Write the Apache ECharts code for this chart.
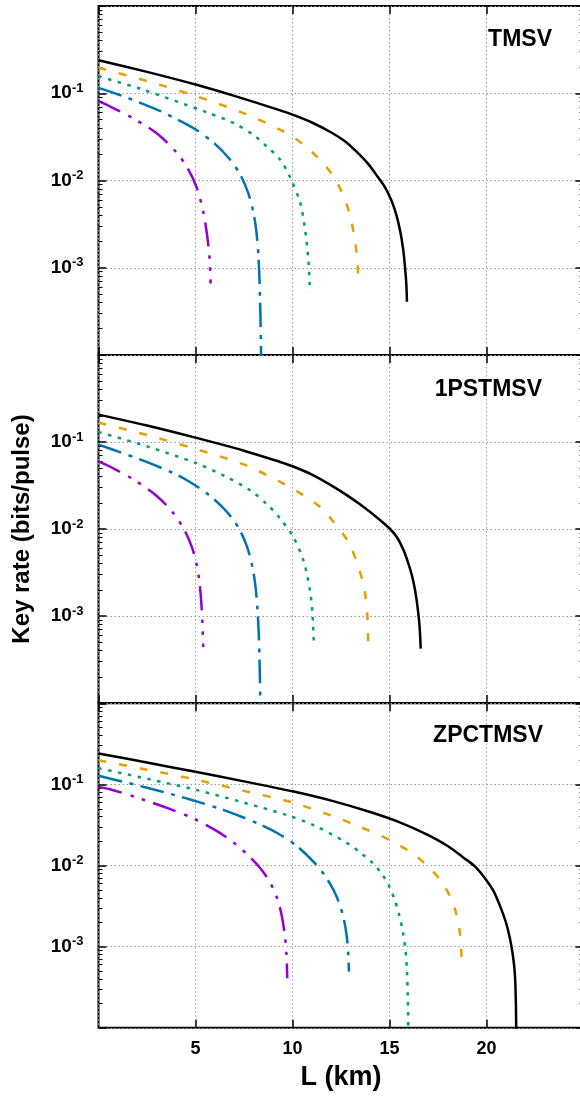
<!DOCTYPE html>
<html><head><meta charset="utf-8">
<script src="https://cdn.jsdelivr.net/npm/echarts@6/dist/echarts.min.js"></script>
<style>html,body{margin:0;padding:0;background:#fff}#c{width:580px;height:1096px}</style>
</head><body><div id="c"></div>
<script>
// ---------- data ----------
const panelNames = ['TMSV', '1PSTMSV', 'ZPCTMSV'];
const xTickLabels = [5, 10, 15, 20];
const yTickExponents = [-3, -2, -1];
const xAxisTitle = 'L (km)';
const yAxisTitle = 'Key rate (bits/pulse)';

// Panel 1: TMSV
const tmsvSolidL = [0, 2.5, 5, 7, 9, 10, 11, 12, 12.7, 13.3, 13.9, 14.4, 14.8, 15.1, 15.35, 15.55, 15.7, 15.8, 15.87, 15.9];
const tmsvSolidK = [0.2393, 0.1758, 0.1259, 0.0933, 0.0676, 0.0569, 0.0462, 0.0355, 0.0282, 0.0214, 0.0155, 0.01096, 0.00813, 0.00589, 0.00407, 0.00263, 0.00166, 0.00102, 0.00063, 0.000407];
const tmsvDashL = [0, 2.5, 5, 7.5, 9.53, 10.51, 11.37, 12.05, 12.57, 12.96, 13.2, 13.34, 13.39];
const tmsvDashK = [0.1959, 0.138, 0.0933, 0.0589, 0.0366, 0.0264, 0.0177, 0.01164, 0.00716, 0.00404, 0.00218, 0.00125, 0.00069];
const tmsvDotL = [0, 2.17, 5.58, 6.95, 8, 8.67, 9.36, 9.87, 10.39, 10.64, 10.82, 10.9];
const tmsvDotK = [0.1567, 0.1122, 0.0605, 0.0457, 0.0331, 0.0246, 0.0174, 0.01096, 0.00562, 0.00282, 0.00123, 0.000525];
const tmsvDashDotL = [0, 1.23, 2.83, 3.48, 4.97, 6, 6.78, 7.3, 7.72, 7.95, 8.12, 8.24, 8.32, 8.38, 8.42];
const tmsvDashDotK = [0.1153, 0.0933, 0.0676, 0.0582, 0.0389, 0.0263, 0.0174, 0.01175, 0.00716, 0.00468, 0.00282, 0.00141, 0.000501, 0.000105, 0.00001];
const tmsvDashDotDotL = [0, 0.63, 1.76, 3, 4.03, 4.6, 5.06, 5.4, 5.6, 5.72, 5.78];
const tmsvDashDotDotK = [0.0813, 0.07, 0.0519, 0.0347, 0.0209, 0.0138, 0.00832, 0.00437, 0.00234, 0.00132, 0.00066];

// Panel 2: 1PSTMSV
const psSolidL = [0, 2.5, 5, 7.5, 9.36, 10, 11, 11.93, 12.8, 13.65, 14.4, 15.03, 15.4, 15.71, 15.95, 16.14, 16.3, 16.4, 16.5, 16.56, 16.61];
const psSolidK = [0.2065, 0.1549, 0.1122, 0.0794, 0.0589, 0.0526, 0.0422, 0.0324, 0.0245, 0.018, 0.0133, 0.01, 0.00794, 0.00582, 0.00417, 0.00302, 0.00209, 0.00151, 0.001, 0.000708, 0.000422];
const psDashL = [0, 2.5, 5, 7.5, 9.53, 10.56, 11.42, 12.19, 12.88, 13.31, 13.65, 13.78, 13.86, 13.91];
const psDashK = [0.1671, 0.1202, 0.0832, 0.055, 0.0333, 0.0244, 0.0179, 0.01153, 0.0071, 0.00418, 0.00236, 0.00158, 0.001, 0.000422];
const psDotL = [0, 2.5, 5, 6.5, 7.81, 8.7, 9.36, 10.04, 10.56, 10.9, 11.04, 11.1];
const psDotK = [0.1303, 0.0891, 0.0575, 0.0407, 0.0279, 0.0191, 0.0132, 0.00809, 0.00437, 0.00197, 0.000977, 0.00046];
const psDashDotL = [0, 1.2, 2.31, 3.73, 4.6, 5.58, 6.35, 6.9, 7.3, 7.65, 7.9, 8.07, 8.18, 8.26, 8.32, 8.36, 8.4];
const psDashDotK = [0.0933, 0.075, 0.061, 0.0452, 0.0359, 0.0257, 0.0182, 0.0132, 0.00955, 0.00631, 0.00398, 0.0024, 0.00132, 0.00063, 0.0002, 0.00005, 0.00001];
const psDashDotDotL = [0, 0.63, 1.76, 3, 3.8, 4.4, 4.8, 5.05, 5.2, 5.3, 5.36, 5.4];
const psDashDotDotK = [0.06, 0.0516, 0.0376, 0.024, 0.0158, 0.01, 0.00631, 0.00398, 0.00251, 0.00141, 0.000794, 0.00044];

// Panel 3: ZPCTMSV
const zpcSolidL = [0, 2.5, 5, 7.5, 10, 12, 14, 15.5, 17, 18, 18.8, 19.4, 19.9, 20.35, 20.7, 21.0, 21.2, 21.35, 21.45, 21.5, 21.53, 21.55];
const zpcSolidK = [0.241, 0.1862, 0.1429, 0.1091, 0.0822, 0.0631, 0.0457, 0.0343, 0.0237, 0.0174, 0.0126, 0.00977, 0.00708, 0.0049, 0.00316, 0.002, 0.00129, 0.000813, 0.000501, 0.000282, 0.0001, 0.00001];
const zpcDashL = [0, 2.5, 5, 7.5, 9.87, 11.93, 13.5, 15.02, 16.05, 16.92, 17.69, 18.21, 18.45, 18.6, 18.68, 18.72];
const zpcDashK = [0.1991, 0.152, 0.1148, 0.0832, 0.0611, 0.0419, 0.0299, 0.0206, 0.0148, 0.01014, 0.00631, 0.00376, 0.00251, 0.00166, 0.00112, 0.000568];
const zpcDotL = [0, 2.5, 5, 7.5, 9.7, 11.07, 12.79, 13.6, 14.16, 14.6, 14.95, 15.25, 15.5, 15.7, 15.83, 15.9, 15.94, 15.97, 15.99];
const zpcDotK = [0.1585, 0.1175, 0.0861, 0.0596, 0.0419, 0.0316, 0.0191, 0.0138, 0.0106, 0.00794, 0.00575, 0.00389, 0.00245, 0.00148, 0.000891, 0.000501, 0.000251, 0.0001, 0.00001];
const zpcDashDotL = [0, 1.28, 2.4, 3.6, 4.72, 6.5, 8.15, 9.3, 10.22, 11.1, 11.6, 11.95, 12.25, 12.5, 12.68, 12.8, 12.87, 12.91];
const zpcDashDotK = [0.1276, 0.1076, 0.0923, 0.0776, 0.0653, 0.0479, 0.0335, 0.0245, 0.0174, 0.011, 0.00794, 0.00589, 0.00427, 0.00295, 0.002, 0.00132, 0.000851, 0.000493];
const zpcDashDotDotL = [0, 0.63, 1.88, 3.6, 4.8, 6, 6.95, 7.7, 8.33, 8.8, 9.19, 9.43, 9.6, 9.69, 9.73];
const zpcDashDotDotK = [0.0933, 0.0867, 0.0703, 0.0506, 0.0389, 0.0275, 0.0193, 0.0135, 0.00933, 0.00646, 0.00407, 0.00251, 0.00141, 0.000794, 0.000408];

// ---------- styling ----------
const FONT = '"Liberation Sans", Arial, Helvetica, sans-serif';
const styles = {
  solid:      { color: '#000000', type: 'solid' },
  dash:       { color: '#E69F00', type: [8, 13] },
  dot:        { color: '#009E73', type: [3.5, 6.5] },
  dashDot:    { color: '#0072B2', type: [24, 8, 4, 7] },
  dashDotDot: { color: '#9400D3', type: [24, 9, 3.5, 8.5, 3.5, 8.5] }
};
const panels = [
  { curves: [['dashDotDot', tmsvDashDotDotL, tmsvDashDotDotK], ['dashDot', tmsvDashDotL, tmsvDashDotK], ['dot', tmsvDotL, tmsvDotK], ['dash', tmsvDashL, tmsvDashK], ['solid', tmsvSolidL, tmsvSolidK]] },
  { curves: [['dashDotDot', psDashDotDotL, psDashDotDotK], ['dashDot', psDashDotL, psDashDotK], ['dot', psDotL, psDotK], ['dash', psDashL, psDashK], ['solid', psSolidL, psSolidK]] },
  { curves: [['dashDotDot', zpcDashDotDotL, zpcDashDotDotK], ['dashDot', zpcDashDotL, zpcDashDotK], ['dot', zpcDotL, zpcDotK], ['dash', zpcDashL, zpcDashK], ['solid', zpcSolidL, zpcSolidK]] }
];
const grids = [
  { left: 98.5, width: 485, top: 6, height: 349 },
  { left: 98.5, width: 485, top: 355, height: 348 },
  { left: 98.5, width: 485, top: 703.3, height: 324.5 }
];
const minorVals = [];
for (let e = -4; e < 0; e++) for (let m = 2; m <= 9; m++) minorVals.push(m * Math.pow(10, e));

const gridLine = { show: true, lineStyle: { color: '#9a9a9a', width: 1, type: [1.5, 2.5] } };
const opt = { animation: false, backgroundColor: '#fff', grid: [], xAxis: [], yAxis: [], series: [], graphic: [] };

grids.forEach((g, gi) => {
  opt.grid.push(Object.assign({ show: true, borderColor: '#000', borderWidth: 2, backgroundColor: 'transparent', containLabel: false, outerBoundsMode: 'none' }, g));
  const isLast = gi === grids.length - 1;
  opt.xAxis.push({
    type: 'value', gridIndex: gi, min: 0, max: 25, interval: 5, position: 'bottom',
    axisLine: { show: false },
    axisTick: { show: true, inside: true, length: 8, lineStyle: { color: '#000', width: 1.5 } },
    splitLine: gridLine,
    axisLabel: {
      show: isLast, margin: 12, color: '#000', fontFamily: FONT, fontWeight: 'bold', fontSize: 18,
      showMinLabel: false, showMaxLabel: false,
      formatter: v => xTickLabels.includes(v) ? String(v) : ''
    },
    name: isLast ? xAxisTitle : '', nameLocation: 'middle', nameGap: 36,
    nameTextStyle: { color: '#000', fontFamily: FONT, fontWeight: 'bold', fontSize: 27 }
  });
  opt.xAxis.push({
    type: 'value', gridIndex: gi, min: 0, max: 25, interval: 5, position: 'top',
    axisLine: { show: false }, splitLine: { show: false }, axisLabel: { show: false },
    axisTick: { show: true, inside: true, length: 8, lineStyle: { color: '#000', width: 1.5 } }
  });
  const yBase = { type: 'log', logBase: 10, gridIndex: gi, min: 1e-4, max: 1, axisLine: { show: false } };
  opt.yAxis.push(Object.assign({}, yBase, {
    position: 'left',
    axisTick: { show: true, inside: true, length: 8, lineStyle: { color: '#000', width: 1.5 } },
    splitLine: gridLine,
    axisLabel: {
      show: true, margin: 15, color: '#000',
      formatter: v => {
        const e = Math.round(Math.log10(v));
        return yTickExponents.includes(e) ? '{b|10}{s|' + e + '}' : '';
      },
      rich: {
        b: { fontFamily: FONT, fontWeight: 'bold', fontSize: 19, color: '#000' },
        s: { fontFamily: FONT, fontWeight: 'bold', fontSize: 13, color: '#000', padding: [0, 0, 10, 0] }
      }
    },
    name: gi === 1 ? yAxisTitle : '', nameLocation: 'middle', nameGap: 64, nameRotate: 90,
    nameTextStyle: { color: '#000', fontFamily: FONT, fontWeight: 'bold', fontSize: 24 }
  }));
  opt.yAxis.push(Object.assign({}, yBase, {
    position: 'left', splitLine: { show: false }, axisLabel: { show: false },
    axisTick: { show: true, inside: true, length: 4, customValues: minorVals, lineStyle: { color: '#000', width: 1 } }
  }));
  opt.yAxis.push(Object.assign({}, yBase, {
    position: 'right', splitLine: { show: false }, axisLabel: { show: false },
    axisTick: { show: true, inside: true, length: 8, lineStyle: { color: '#000', width: 1.5 } }
  }));
  opt.yAxis.push(Object.assign({}, yBase, {
    position: 'right', splitLine: { show: false }, axisLabel: { show: false },
    axisTick: { show: true, inside: true, length: 4, customValues: minorVals, lineStyle: { color: '#000', width: 1 } }
  }));

  panels[gi].curves.forEach(([key, L, K], ci) => {
    const st = styles[key];
    opt.series.push({
      type: 'line', name: panelNames[gi] + ' ' + key,
      xAxisIndex: gi * 2, yAxisIndex: gi * 4,
      data: L.map((x, i) => [x, K[i]]),
      showSymbol: false, symbol: 'none', smooth: 0.3, clip: true, silent: true,
      z: 3 + ci,
      lineStyle: { color: st.color, width: 2.5, type: st.type, cap: 'butt' }
    });
  });
});

const titlePos = [[552, 40], [542, 390], [543, 736]];
panelNames.forEach((n, i) => {
  opt.graphic.push({
    type: 'text', x: titlePos[i][0], y: titlePos[i][1], z: 100,
    style: { text: n, fill: '#000', font: 'bold 23px ' + FONT, textAlign: 'right', textVerticalAlign: 'middle' }
  });
});

const chart = echarts.init(document.getElementById('c'), null, { renderer: 'canvas' });
chart.setOption(opt);
</script>
</body></html>
